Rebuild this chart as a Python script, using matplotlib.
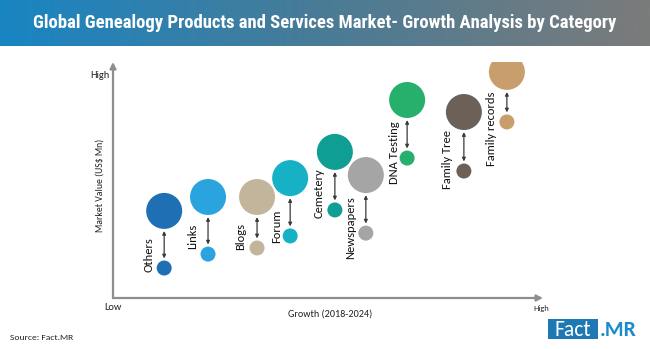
import numpy as np
import matplotlib
matplotlib.use("Agg")
import matplotlib.pyplot as plt
from matplotlib.colors import LinearSegmentedColormap
from matplotlib.patches import Rectangle
from matplotlib import font_manager

# ---- data -------------------------------------------------------------
categories = ["Others", "Links", "Blogs", "Forum", "Cemetery", "Newspapers",
              "DNA Testing", "Family Tree", "Family records"]
growth_index = [11.9, 22.1, 33.5, 41.2, 51.6, 58.8, 68.4, 81.6, 91.6]
value_2024 = [36.9, 42.8, 42.8, 50.8, 61.9, 52.1, 83.9, 78.8, 95.8]
value_2018 = [12.7, 18.6, 21.2, 26.3, 37.3, 27.5, 59.3, 53.8, 74.6]
colors = ["#1f6fb4", "#2aa4de", "#c3b59c", "#16b1c4", "#0f9e93", "#a5a5a5",
          "#27b06c", "#6c6158", "#c89f6c"]

# label placement (points, relative to the 2018 bubble)
label_dx = [-11, -11, -12, -9.5, -11.5, -11, -9, -11.5, -11]
label_dy = [-3, 4, -1.5, -5, -6, -19, -19, -13, -32]

title = "Global Genealogy Products and Services Market- Growth Analysis by Category"

fams = {f.name for f in font_manager.fontManager.ttflist}
body_font = "Carlito" if "Carlito" in fams else "DejaVu Sans"
title_font = next((f for f in ["Roboto Condensed", "Archivo Narrow",
                               "PT Sans Narrow"] if f in fams), "DejaVu Sans")

plt.rcParams["font.family"] = body_font

W, H = 650, 349
fig = plt.figure(figsize=(W / 100, H / 100), dpi=100)
fig.patch.set_facecolor("white")

# ---- title banner -----------------------------------------------------
bh = 46
bax = fig.add_axes([0, 1 - bh / H, 1, bh / H])
cmap = LinearSegmentedColormap.from_list("banner", ["#1885c3", "#4a7b96", "#7b7b7b"])
bax.imshow(np.linspace(0, 1, 256)[None, :], aspect="auto", cmap=cmap,
           extent=[0, 1, 0, 1])
bax.set_axis_off()
bax.text(0.5, 0.5, title, color="white", fontsize=13.4, fontweight="bold",
         family=title_font, ha="center", va="center")

# ---- main chart -------------------------------------------------------
x0, y0, x1, y1 = 113, 298, 543, 62
ax = fig.add_axes([x0 / W, (H - y0) / H, (x1 - x0) / W, (y0 - y1) / H])
ax.set_xlim(0, 100)
ax.set_ylim(0, 100)
ax.set_axis_off()

axis_col = "#8e8e8e"
ax.annotate("", xy=(0, 1.0), xytext=(0, 0), xycoords="axes fraction",
            arrowprops=dict(arrowstyle="-|>", color=axis_col, lw=1.6,
                            mutation_scale=9, shrinkA=0, shrinkB=0))
ax.annotate("", xy=(1.0, 0), xytext=(0, 0), xycoords="axes fraction",
            arrowprops=dict(arrowstyle="-|>", color=axis_col, lw=1.6,
                            mutation_scale=9, shrinkA=0, shrinkB=0))

big_d = 36 * 0.72   # points
small_d = 15 * 0.72
ax.scatter(growth_index, value_2024, s=big_d ** 2, c=colors, zorder=3,
           linewidths=0)
ax.scatter(growth_index, value_2018, s=small_d ** 2, c=colors, zorder=3,
           linewidths=0)

for i, name in enumerate(categories):
    ax.annotate("", xy=(growth_index[i], value_2018[i]),
                xytext=(growth_index[i], value_2024[i]),
                arrowprops=dict(arrowstyle="<|-|>", color="#3a3a3a", lw=0.9,
                                mutation_scale=5,
                                shrinkA=big_d / 2 + 1.5,
                                shrinkB=small_d / 2 + 1.5), zorder=2)
    ax.annotate(name, xy=(growth_index[i], value_2018[i]),
                xytext=(label_dx[i], label_dy[i]), textcoords="offset points",
                rotation=90, ha="center", va="bottom", fontsize=9,
                color="#111111")

# ---- axis texts -------------------------------------------------------
def px(x, y):
    return x / W, 1 - y / H

fig.text(*px(100, 185), "Market Value (US$ Mn)", rotation=90, ha="center",
         va="center", fontsize=7, color="#222222")
fig.text(*px(100, 76), "High", ha="center", va="center", fontsize=7.5,
         color="#222222")
fig.text(*px(113, 307), "Low", ha="center", va="center", fontsize=7.5,
         color="#222222")
fig.text(*px(330, 314), "Growth (2018-2024)", ha="center", va="center",
         fontsize=7.3, color="#222222")
fig.text(*px(541, 309), "High", ha="center", va="center", fontsize=6,
         color="#222222")
fig.text(*px(10, 338), "Source: Fact.MR", ha="left", va="center",
         fontsize=6.8, color="#222222")

# ---- logo -------------------------------------------------------------
fig.patches.append(Rectangle(px(548, 339), 50 / W, 20 / H,
                             transform=fig.transFigure, facecolor="#1d78b4",
                             edgecolor="none"))
fig.text(*px(573, 329.5), "Fact", ha="center", va="center", fontsize=15.5,
         color="white")
fig.text(*px(600, 329.5), ".MR", ha="left", va="center", fontsize=15.5,
         color="#1b8bcc", fontweight="bold")

fig.savefig("out.png", dpi=100, facecolor="white")
